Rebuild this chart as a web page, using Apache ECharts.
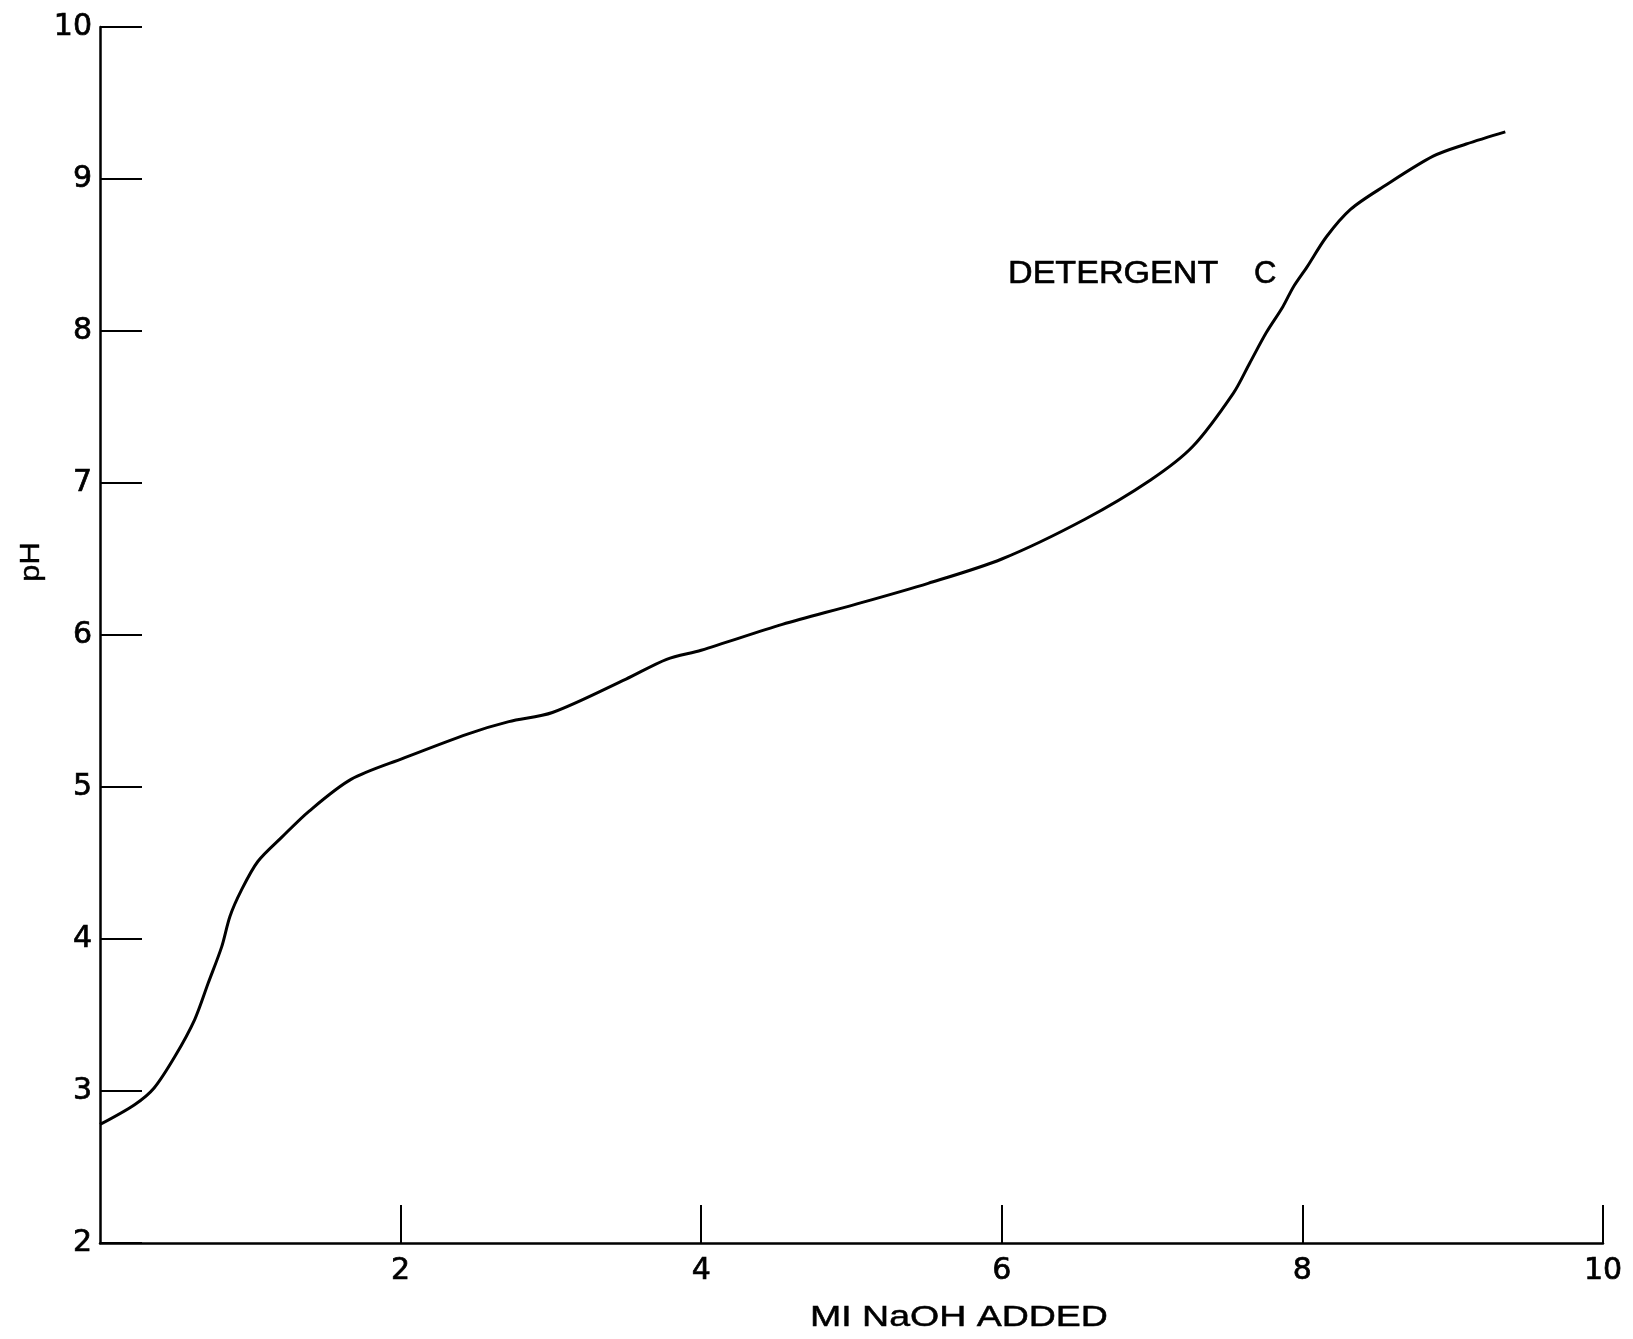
<!DOCTYPE html>
<html>
<head>
<meta charset="utf-8">
<script src="https://cdn.jsdelivr.net/npm/echarts@6/dist/echarts.min.js"></script>
<style>
html,body{margin:0;padding:0;background:#fff;}
#chart{width:1633px;height:1339px;}
</style>
</head>
<body>
<div id="chart"></div>
<script>
// Titration curve: ml NaOH added vs pH (Detergent C)
const mlNaOH = [0, 0.23, 0.36, 0.50, 0.63, 0.72, 0.81, 0.865, 0.94, 1.05, 1.21, 1.39, 1.67, 2.02, 2.45, 2.72, 3.01, 3.50, 3.77, 4.00, 4.54, 5.02, 5.51, 6.00, 6.55, 6.99, 7.27, 7.54, 7.65, 7.76, 7.87, 7.94, 8.03, 8.16, 8.32, 8.54, 8.87, 9.09, 9.35];
const phValues = [2.78, 2.91, 3.02, 3.23, 3.47, 3.71, 3.95, 4.15, 4.32, 4.51, 4.67, 4.84, 5.05, 5.19, 5.35, 5.43, 5.49, 5.71, 5.84, 5.90, 6.07, 6.20, 6.34, 6.50, 6.76, 7.02, 7.24, 7.59, 7.79, 7.99, 8.16, 8.29, 8.42, 8.62, 8.80, 8.95, 9.15, 9.23, 9.31];
const xTicks = [0, 2, 4, 6, 8, 10];
const yTicks = [2, 3, 4, 5, 6, 7, 8, 9, 10];
const seriesLabel = 'DETERGENT';
const seriesLetter = 'C';
const xAxisTitle = 'MI NaOH ADDED';
const yAxisTitle = 'pH';

const FONT = '"Liberation Sans", Arial, sans-serif';
const TICKFONT = '"DejaVu Sans", sans-serif';
const chart = echarts.init(document.getElementById('chart'), null, {renderer: 'canvas'});
const data = mlNaOH.map((x, i) => [x, phValues[i]]);

chart.setOption({
  animation: false,
  backgroundColor: '#ffffff',
  grid: {left: 100, right: 30, top: 27, bottom: 96, containLabel: false},
  xAxis: {
    type: 'value', min: xTicks[0], max: xTicks[xTicks.length - 1], interval: 2,
    axisLine: {show: true, lineStyle: {color: '#000', width: 2.5}},
    axisTick: {show: true, inside: true, length: 38, lineStyle: {color: '#000', width: 2}},
    axisLabel: {show: true, color: '#000', fontSize: 30, fontFamily: TICKFONT, margin: 13, showMinLabel: false,
      textBorderColor: '#000', textBorderWidth: 0.7,
      formatter: v => String(v)},
    splitLine: {show: false}
  },
  yAxis: {
    type: 'value', min: yTicks[0], max: yTicks[yTicks.length - 1], interval: 1,
    axisLine: {show: true, lineStyle: {color: '#000', width: 2.5}},
    axisTick: {show: true, inside: true, length: 42, lineStyle: {color: '#000', width: 2}},
    axisLabel: {show: true, color: '#000', fontSize: 30, fontFamily: TICKFONT, margin: 8,
      textBorderColor: '#000', textBorderWidth: 0.7,
      formatter: v => String(v)},
    splitLine: {show: false}
  },
  series: [{
    type: 'line', data: data, smooth: 0.3, showSymbol: false, symbol: 'none',
    lineStyle: {color: '#000', width: 3}
  }],
  graphic: [
    {type: 'text', x: 1008, y: 274, style: {text: seriesLabel, font: '31px ' + FONT, fill: '#000', stroke: '#000', lineWidth: 0.6, textAlign: 'left', textVerticalAlign: 'middle'}, scaleX: 1.1},
    {type: 'text', x: 1254, y: 274, style: {text: seriesLetter, font: '31px ' + FONT, fill: '#000', stroke: '#000', lineWidth: 0.6, textAlign: 'left', textVerticalAlign: 'middle'}},
    {type: 'text', x: 810, y: 1318, style: {text: xAxisTitle, font: '30px ' + FONT, fill: '#000', stroke: '#000', lineWidth: 0.5, textAlign: 'left', textVerticalAlign: 'middle'}, scaleX: 1.25},
    {type: 'text', x: 31, y: 562, rotation: Math.PI / 2, style: {text: yAxisTitle, font: '28px ' + FONT, fill: '#000', stroke: '#000', lineWidth: 0.4, textAlign: 'center', textVerticalAlign: 'middle'}, scaleX: 1.1}
  ]
});
</script>
</body>
</html>
